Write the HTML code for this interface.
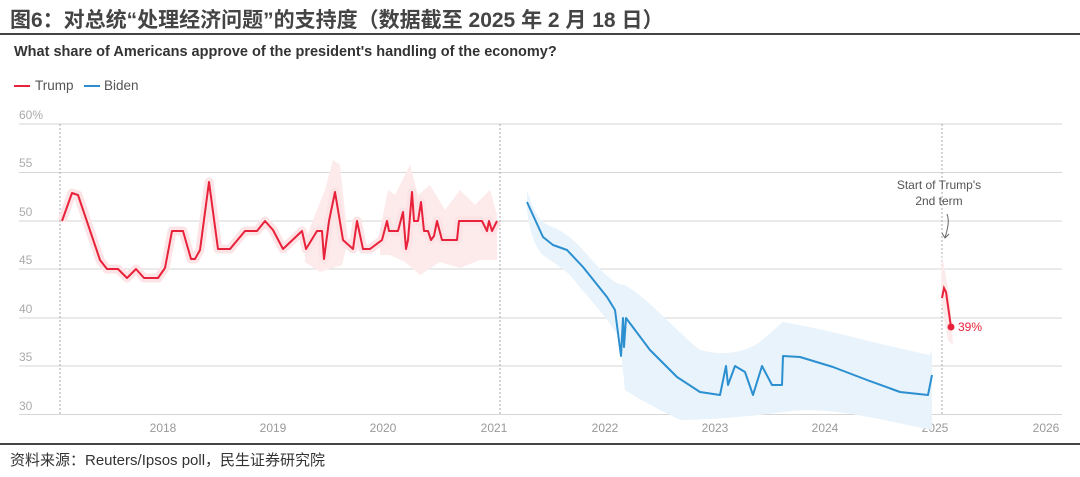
<!DOCTYPE html>
<html><head><meta charset="utf-8"><style>
body{margin:0;background:#fff;width:1080px;height:472px;overflow:hidden;font-family:"Liberation Sans","Noto Sans CJK SC",sans-serif}
</style></head><body>
<svg width="1080" height="472" viewBox="0 0 1080 472" xmlns="http://www.w3.org/2000/svg" font-family="Liberation Sans, Noto Sans CJK SC, sans-serif">
<text x="10" y="27" font-size="21" font-weight="bold" fill="#444">图6：对总统“处理经济问题”的支持度（数据截至 2025 年 2 月 18 日）</text>
<rect x="0" y="33" width="1080" height="2" fill="#444"/>
<text x="14" y="56" font-size="14.5" font-weight="bold" fill="#333">What share of Americans approve of the president's handling of the economy?</text>
<rect x="14" y="85" width="16" height="2" fill="#e8223a"/>
<text x="35" y="90" font-size="13.5" fill="#555">Trump</text>
<rect x="84" y="85" width="16" height="2" fill="#2b8fd0"/>
<text x="104" y="90" font-size="13.5" fill="#555">Biden</text>
<g font-size="12" fill="#aaa">
<text x="19" y="119">60%</text><text x="19" y="167">55</text><text x="19" y="216">50</text><text x="19" y="264">45</text><text x="19" y="313">40</text><text x="19" y="361">35</text><text x="19" y="410">30</text>
</g>
<g stroke="#d6d6d6" stroke-width="1">
<line x1="19" y1="124" x2="1062" y2="124"/><line x1="19" y1="172.5" x2="1062" y2="172.5"/><line x1="19" y1="221" x2="1062" y2="221"/><line x1="19" y1="269" x2="1062" y2="269"/><line x1="19" y1="318" x2="1062" y2="318"/><line x1="19" y1="366" x2="1062" y2="366"/><line x1="19" y1="414.5" x2="1062" y2="414.5"/>
</g>
<g stroke="#aaa" stroke-width="1" stroke-dasharray="2,2">
<line x1="60" y1="124" x2="60" y2="414"/><line x1="500" y1="124" x2="500" y2="414"/><line x1="942" y1="124" x2="942" y2="414"/>
</g>
<g font-size="12" fill="#999" text-anchor="middle">
<text x="163" y="432">2018</text><text x="273" y="432">2019</text><text x="383" y="432">2020</text><text x="494" y="432">2021</text><text x="605" y="432">2022</text><text x="715" y="432">2023</text><text x="825" y="432">2024</text><text x="935" y="432">2025</text><text x="1046" y="432">2026</text>
</g>
<!-- bands -->
<g fill="#fdeaeb">
<polygon points="305,240 315,215 325,190 333,160 340,165 348,240 342,265 320,272 305,262"/>
<polygon points="380,230 388,190 395,195 410,165 418,195 430,185 445,210 460,190 475,205 490,190 497,215 497,260 480,260 460,268 440,262 420,275 405,262 390,255 380,255"/>
<polygon points="942,255 950,300 953,345 948,340 941,300"/>
</g>
<polyline fill="none" stroke="#fce3e5" stroke-width="9" stroke-linejoin="round" points="62,221 72,193 78,195 100,260 107,269 118,269 127,278 136,269 144,278 158,278 165,268 172,231 183,231 191,259 195,259 200,250 209,182 218,249 230,249 245,231 257,231 265,221 273,230 283,249 302,231 306,249 317,231 322,231 324,259 329,221 335,192 343,240 353,249 357,221 363,249 370,249 382,240 387,221 389,231 398,231 403,212 406,249 408,240 412,192 414,221 418,221 421,202 424,231 428,231 431,240 434,236 437,221 442,240 457,240 459,221 482,221 487,231 489,221 492,231 497,221"/>
<path fill="#e8f3fb" d="M527,190 C535,215 540,222 550,226 C565,232 575,240 590,258 C605,275 615,285 625,285 C650,300 680,335 700,350 C720,355 740,355 760,342 L783,322 C830,330 880,345 930,355 L932,350 L932,430 C880,420 830,405 783,412 C740,418 700,420 680,420 C660,410 640,400 625,390 L620,340 C610,320 590,300 570,275 C555,262 545,258 540,252 C532,240 529,225 527,210 Z"/>
<!-- lines -->
<polyline fill="none" stroke="#e8223a" stroke-width="2" stroke-linejoin="round" points="62,221 72,193 78,195 100,260 107,269 118,269 127,278 136,269 144,278 158,278 165,268 172,231 183,231 191,259 195,259 200,250 209,182 218,249 230,249 245,231 257,231 265,221 273,230 283,249 302,231 306,249 317,231 322,231 324,259 329,221 335,192 343,240 353,249 357,221 363,249 370,249 382,240 387,221 389,231 398,231 403,212 406,249 408,240 412,192 414,221 418,221 421,202 424,231 428,231 431,240 434,236 437,221 442,240 457,240 459,221 482,221 487,231 489,221 492,231 497,221"/>
<polyline fill="none" stroke="#2b8fd0" stroke-width="2" stroke-linejoin="round" points="527,202 543,237 553,245 567,250 583,267 607,297 615,310 621,356 623,318 624,347 626,318 650,350 677,377 700,392 720,395 726,366 728,385 735,366 745,372 753,395 762,366 772,385 782,385 783,356 800,357 833,367 867,380 900,392 928,395 932,375"/>
<polyline fill="none" stroke="#e8223a" stroke-width="2" points="942,298 944,288 946,292 951,327"/>
<circle cx="951" cy="327" r="3.5" fill="#e8223a"/>
<text x="958" y="331" font-size="12" fill="#e8223a">39%</text>
<text x="939" y="189" font-size="12" fill="#555" text-anchor="middle">Start of Trump's</text>
<text x="939" y="205" font-size="12" fill="#555" text-anchor="middle">2nd term</text>
<path d="M947,214 C950,222 947,230 945,238 M942,233 L945,238 L949,234" fill="none" stroke="#666" stroke-width="1"/>
<rect x="0" y="443" width="1080" height="2" fill="#444"/>
<text x="10" y="465" font-size="15" fill="#333">资料来源：Reuters/Ipsos poll，民生证券研究院</text>
</svg>
</body></html>
